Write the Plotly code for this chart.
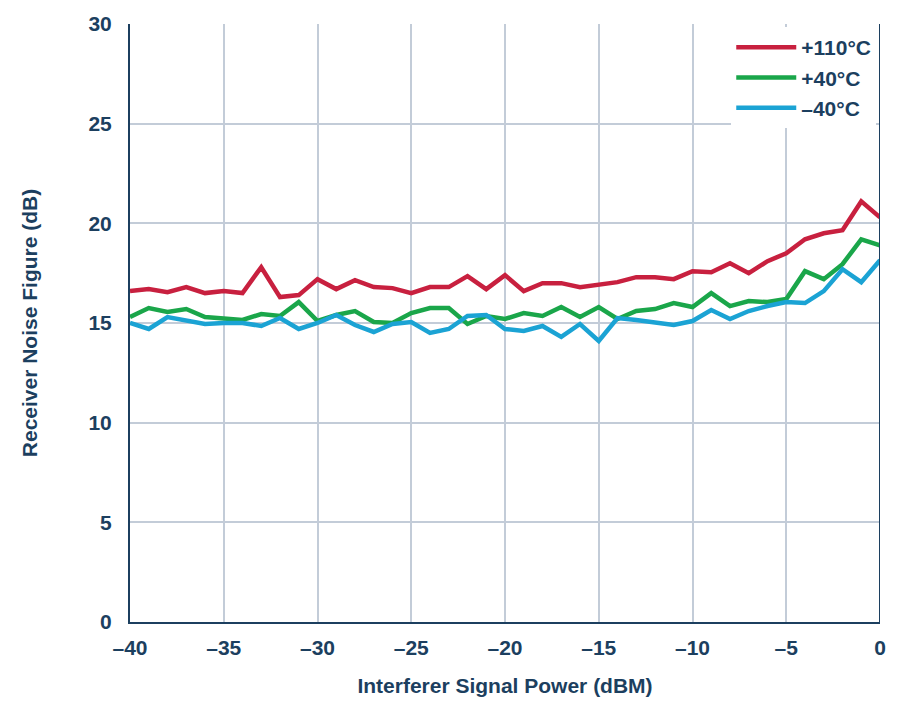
import plotly.graph_objects as go

x = list(range(-40, 1))
t110 = [16.6, 16.7, 16.55, 16.8, 16.5, 16.6, 16.5, 17.8, 16.3, 16.4, 17.2, 16.7, 17.15, 16.8, 16.75, 16.5,
        16.8, 16.8, 17.35, 16.7, 17.4, 16.6, 17.0, 17.0, 16.8, 16.9, 17.05, 17.3, 17.3, 17.2, 17.6, 17.55,
        18.0, 17.5, 18.1, 18.5, 19.2, 19.5, 19.65, 21.1, 20.3]
t40 = [15.3, 15.75, 15.55, 15.7, 15.3, 15.2, 15.15, 15.45, 15.35, 16.05, 15.1, 15.4, 15.6, 15.05, 15.0, 15.5,
       15.75, 15.75, 14.95, 15.35, 15.2, 15.5, 15.35, 15.8, 15.3, 15.8, 15.2, 15.6, 15.7, 16.0, 15.8, 16.5,
       15.85, 16.1, 16.05, 16.2, 17.6, 17.2, 17.95, 19.2, 18.9]
tm40 = [15.0, 14.7, 15.3, 15.1, 14.95, 15.0, 15.0, 14.85, 15.25, 14.7, 15.0, 15.4, 14.9, 14.55, 14.95, 15.05,
        14.5, 14.7, 15.35, 15.4, 14.7, 14.6, 14.85, 14.3, 14.95, 14.1, 15.25, 15.15, 15.05, 14.9, 15.1, 15.65,
        15.2, 15.6, 15.85, 16.05, 16.0, 16.6, 17.7, 17.05, 18.15]
xticks = ['–40', '–35', '–30', '–25', '–20', '–15', '–10', '–5', '0']
yticks = ['0', '5', '10', '15', '20', '25', '30']

navy = '#1c3f5f'
fig = go.Figure()
for name, y, c in [('+110°C', t110, '#c8203f'), ('+40°C', t40, '#1aa64a'), ('–40°C', tm40, '#1ba3d4')]:
    fig.add_trace(go.Scatter(x=x, y=y, name='<b>' + name + '</b>', mode='lines', line=dict(color=c, width=4.5)))

axis = dict(showline=True, linecolor=navy, linewidth=2, gridcolor='#c3ccd8', gridwidth=2,
            zeroline=False, ticks='', tickfont=dict(size=21, color=navy), automargin=False,
            title_font=dict(size=21, color=navy))
fig.update_layout(
    width=906, height=718, plot_bgcolor='white', paper_bgcolor='white',
    font=dict(family='Liberation Sans', color=navy),
    margin=dict(l=122, r=34, t=16, b=104),
    xaxis=dict(axis, range=[-40, 0], title_text='<b>Interferer Signal Power (dBM)</b>', title_standoff=20,
               tickvals=list(range(-40, 1, 5)), ticktext=['<b>%s</b>' % t for t in xticks],
               ticklabelstandoff=6),
    yaxis=dict(axis, range=[0, 30], title_text='<b>Receiver Noise Figure (dB)</b>', title_standoff=45,
               tickvals=list(range(0, 31, 5)), ticktext=['<b>%s</b>' % t for t in yticks],
               ticklabelstandoff=12),
    legend=dict(x=0.995, y=0.995, xanchor='right', yanchor='top', bgcolor='white',
                font=dict(size=21, color=navy), itemwidth=60, tracegroupgap=0),
)
fig.add_shape(type='line', xref='x', yref='paper', x0=0, x1=0, y0=0, y1=1, line=dict(color=navy, width=2))
fig.write_html('out.html')
